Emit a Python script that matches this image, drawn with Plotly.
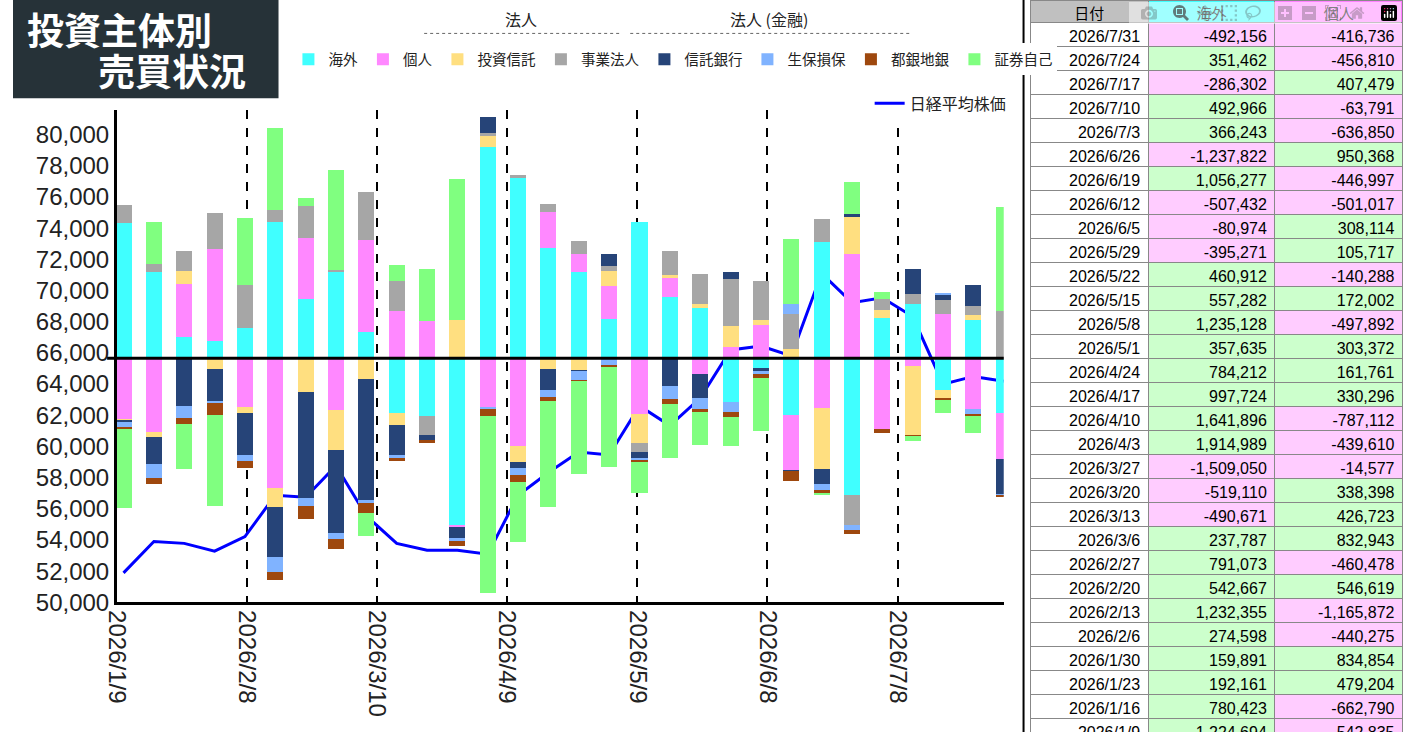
import plotly.graph_objects as go
import pandas as pd

dates = pd.date_range("2026-01-09", periods=30, freq="7D")
overseas = [1224694, 780423, 192161, 159891, 274598, 1232355, 542667, 791073, 237787, -490671,
            -519110, -1509050, 1914989, 1641896, 997724, 784212, 357635, 1235128, 557282, 460912,
            -395271, -80974, -507432, 1056277, -1237822, 366243, 492966, -286302, 351462, -492156]
individual = [-542835, -662790, 479204, 834854, -440275, -1165872, 546619, -460478, 832943, 426723,
              338398, -14577, -439610, -787112, 330296, 161761, 303372, -497892, 172002, -140288,
              105717, 308114, -501017, -446997, 950368, -636850, -63791, 407479, -456810, -416736]
# thousands
trust = [-21, -44, 124, -97, -53, -177, -301, -363, -186, -106, 0, 354, 106, -150, -97, -106, 133, -265, 27, 35,
         186, 44, 89, -549, 327, 71, -628, -71, 44, 0]
business = [168, 80, 177, 319, 389, 115, 292, 9, 434, 274, -168, 0, 18, 18, 71, 115, 44, -80, 221, 274,
            425, 354, 319, 204, -265, 100, 89, 124, 80, 434]
trustbank = [-12, -248, -425, -292, -381, -451, -956, -752, -1089, -274, -53, -106, 150, -53, -186, -9, 106, -53, -248, -212,
             71, -27, -9, -142, 35, 0, 230, 53, 195, -319]
insurance = [-41, -124, -115, -9, -53, -133, -80, -53, -27, -27, 0, -18, -18, -62, -62, -80, -62, -27, -115, -106,
             -89, -35, 89, -53, -44, 0, 0, 9, -44, -9]
banks = [-24, -53, -53, -115, -59, -80, -115, -97, -97, -27, -27, -44, -62, -62, -35, -9, -9, -9, -44, -27,
         -44, -35, -89, -27, -35, -35, -9, -18, -18, -18]
securities = [-708, 372, -407, -823, 611, 743, 71, 903, -204, 150, 469, 1274, -1602, -540, -965, -841, -912, -283, -496, -292,
              -265, -478, 584, -9, 283, 62, -44, -115, -150, 938]
nikkei = [51890, 53900, 53780, 53280, 54220, 56870, 56740, 58760, 55540, 53780,
          53340, 53340, 53090, 56870, 58320, 59640, 59450, 62600, 61340, 63100,
          66190, 66440, 65810, 71100, 69220, 69530, 68330, 63990, 64490, 64180]
tick_dates = ["2026-01-09", "2026-02-08", "2026-03-10", "2026-04-09", "2026-05-09", "2026-06-08", "2026-07-08"]
tick_labels = ["2026/1/9", "2026/2/8", "2026/3/10", "2026/4/9", "2026/5/9", "2026/6/8", "2026/7/8"]

names = ["海外", "個人", "投資信託", "事業法人", "信託銀行", "生保損保", "都銀地銀", "証券自己"]
colors = ["#40ffff", "#ff88ff", "#ffdf80", "#a6a6a6", "#264478", "#80b3ff", "#9e480e", "#80ff80"]
series = [[v / 1000 for v in overseas], [v / 1000 for v in individual], trust, business,
          trustbank, insurance, banks, securities]

W, H = 1403, 745
xd = dates + pd.Timedelta(hours=36)
fig = go.Figure()
for n, c, s in zip(names, colors, series):
    fig.add_trace(go.Bar(x=xd, y=s, name=n, marker=dict(color=c, line=dict(width=0)),
                         width=3.7 * 86400000, yaxis="y2"))
fig.add_trace(go.Scatter(x=xd, y=nikkei, name="日経平均株価", mode="lines",
                         line=dict(color="#0000ff", width=3), legend="legend2"))

base = 65650
px_per_yen = 476 / 30000
top_y = 81600
plot_top_px = 613 - (top_y - 50000) * px_per_yen
base_px = 613 - (base - 50000) * px_per_yen
kpp = 1 / 0.1125
y2lo = -(613 - base_px) * kpp
y2hi = (base_px - plot_top_px) * kpp

fig.update_layout(
    width=W, height=H, margin=dict(l=0, r=0, t=0, b=0),
    paper_bgcolor="white", plot_bgcolor="white", barmode="relative", bargap=0,
    font=dict(family="Noto Sans CJK JP", size=16, color="#222"),
    xaxis=dict(domain=[105 / W, 1000 / W], type="date",
               range=[pd.Timestamp("2026-01-09"), pd.Timestamp("2026-01-09") + pd.Timedelta(days=204.5)],
               tickvals=tick_dates, ticktext=tick_labels, tickangle=90,
               tickfont=dict(family="Liberation Sans", size=24, color="#222"),
               showgrid=True, gridcolor="black", griddash="dash", gridwidth=2,
               showline=True, linecolor="black", linewidth=3, ticks="", zeroline=False),
    yaxis=dict(domain=[(H - 613) / H, 1 - plot_top_px / H], range=[50000, top_y],
               tickvals=list(range(50000, 80001, 2000)), tickformat=",",
               tickfont=dict(family="Liberation Sans", size=24, color="#222"),
               showgrid=False, showline=True, linecolor="black", linewidth=3, ticks="", zeroline=False),
    yaxis2=dict(overlaying="y", range=[y2lo, y2hi], visible=False),
    legend=dict(orientation="h", x=278 / W, y=1 - 44 / H, xanchor="left", yanchor="top",
                font=dict(size=14.5), itemwidth=30, tracegroupgap=0, traceorder="normal"),
    legend2=dict(orientation="h", x=1008 / W, y=1 - 88 / H, xanchor="right", yanchor="top",
                 font=dict(size=16)),
    showlegend=True,
)

shapes = [
    dict(type="rect", xref="paper", yref="paper", x0=0, x1=268 / W, y0=1 - 100 / H, y1=1,
         fillcolor="#263238", line=dict(width=0)),
    dict(type="line", xref="paper", yref="y", x0=95 / W, x1=1000 / W, y0=base, y1=base,
         line=dict(color="black", width=3)),
    dict(type="line", xref="paper", yref="paper", x0=1020 / W, x1=1020 / W, y0=0, y1=1,
         line=dict(color="black", width=2)),
    dict(type="line", xref="paper", yref="paper", x0=415 / W, x1=612 / W, y0=1 - 34 / H, y1=1 - 34 / H,
         line=dict(color="#666", width=1, dash="dot")),
    dict(type="line", xref="paper", yref="paper", x0=623 / W, x1=905 / W, y0=1 - 34 / H, y1=1 - 34 / H,
         line=dict(color="#666", width=1, dash="dot")),
]
fig.update_layout(shapes=shapes)
ann = [
    dict(text="<b>投資主体別</b>", x=12 / W, y=1 - 30 / H, xanchor="left", yanchor="middle",
         font=dict(size=37, color="white")),
    dict(text="<b>売買状況</b>", x=84 / W, y=1 - 71 / H, xanchor="left", yanchor="middle",
         font=dict(size=37, color="white")),
    dict(text="法人", x=513 / W, y=1 - 19 / H, xanchor="center", yanchor="middle", font=dict(size=16)),
    dict(text="法人 (金融)", x=763 / W, y=1 - 19 / H, xanchor="center", yanchor="middle", font=dict(size=16)),
]
for a in ann:
    a.update(xref="paper", yref="paper", showarrow=False)
fig.update_layout(annotations=ann)

# table, newest first
rows = list(range(29, -1, -1))
tdates = [f"{dates[i].year}/{dates[i].month}/{dates[i].day}" for i in rows]
tov = [f"{overseas[i]:,}" for i in rows]
tin = [f"{individual[i]:,}" for i in rows]
col_ov = ["#ccffcc" if overseas[i] >= 0 else "#ffccff" for i in rows]
col_in = ["#ccffcc" if individual[i] >= 0 else "#ffccff" for i in rows]
fig.add_trace(go.Table(
    domain=dict(x=[1027 / W, 1], y=[0, 1]),
    columnwidth=[118, 127, 128],
    header=dict(values=["日付", "海外", "個人"], height=22,
                fill=dict(color=["#c0c0c0", "#40ffff", "#ff80ff"]),
                line=dict(color="#888", width=1), align="center",
                font=dict(family="Noto Sans CJK JP", size=15, color="black")),
    cells=dict(values=[tdates, tov, tin], height=24,
               fill=dict(color=[["white"] * 30, col_ov, col_in]),
               line=dict(color="#888", width=1), align="right",
               font=dict(family="Liberation Sans", size=16, color="black")),
))

fig.write_html("out.html",
               post_script="document.body.style.margin='0px';document.body.style.overflow='hidden';")
